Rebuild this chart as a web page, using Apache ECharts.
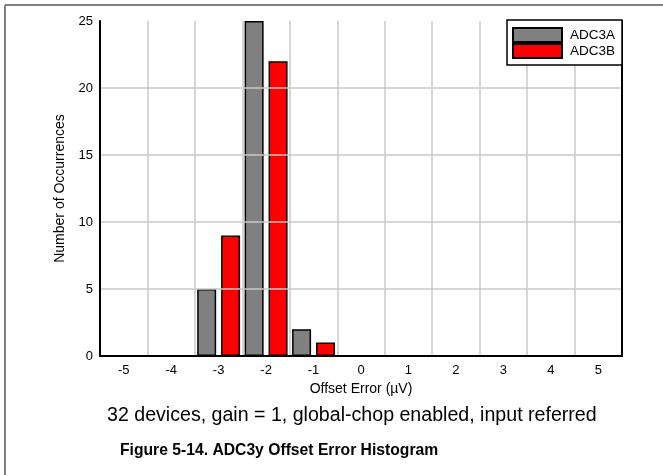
<!DOCTYPE html>
<html>
<head>
<meta charset="utf-8">
<script src="https://cdn.jsdelivr.net/npm/echarts@6/dist/echarts.min.js"></script>
<style>
  html, body { margin: 0; padding: 0; background: #fff; }
  #chart { width: 663px; height: 475px; }
</style>
</head>
<body>
<div id="chart"></div>
<script>
const categories = ['-5', '-4', '-3', '-2', '-1', '0', '1', '2', '3', '4', '5'];
const adc3a = [0, 0, 5, 25, 2, 0, 0, 0, 0, 0, 0];
const adc3b = [0, 0, 9, 22, 1, 0, 0, 0, 0, 0, 0];
const yTicks = { min: 0, max: 25, interval: 5 };
const seriesNames = ['ADC3A', 'ADC3B'];
const seriesColors = ['#808080', '#ff0000'];
const xTitle = 'Offset Error (\u00B5V)';
const yTitle = 'Number of Occurrences';
const subtitle = '32 devices, gain = 1, global-chop enabled, input referred';
const figTitle = 'Figure 5-14. ADC3y Offset Error Histogram';

const FONT = 'Arial, "Liberation Sans", sans-serif';
const chart = echarts.init(document.getElementById('chart'), null, { renderer: 'canvas' });

chart.setOption({
  animation: false,
  backgroundColor: '#ffffff',
  textStyle: { fontFamily: FONT },
  grid: {
    left: 100, right: 41, top: 21, bottom: 119,
    show: false
  },
  legend: {
    data: seriesNames,
    orient: 'vertical',
    left: 507, top: 20,
    padding: [7, 7, 6, 5],
    itemWidth: 49, itemHeight: 14, itemGap: 0,
    borderColor: '#000', borderWidth: 1.5,
    backgroundColor: '#fff',
    icon: 'rect',
    z: 10,
    textStyle: { fontFamily: FONT, fontSize: 13.5, lineHeight: 14, color: '#000', padding: [0, 0, 0, 3] }
  },
  xAxis: [{
    type: 'category',
    data: categories,
    boundaryGap: true,
    axisLine: { show: true, lineStyle: { color: '#000', width: 2 } },
    axisTick: { show: false },
    axisLabel: { fontFamily: FONT, fontSize: 13, color: '#000', margin: 8 },
    splitLine: { show: true, showMinLine: false, showMaxLine: false, lineStyle: { color: '#c8c8c8', width: 1.5 } },
    name: xTitle,
    nameLocation: 'middle',
    nameGap: 25,
    nameTextStyle: { fontFamily: FONT, fontSize: 14, color: '#000' },
    z: 5
  }, {
    type: 'category',
    position: 'top',
    data: categories,
    axisLine: { show: true, lineStyle: { color: '#000', width: 2 } },
    axisTick: { show: false },
    axisLabel: { show: false },
    splitLine: { show: false },
    z: 5
  }],
  yAxis: [{
    type: 'value',
    min: yTicks.min, max: yTicks.max, interval: yTicks.interval,
    axisLine: { show: true, lineStyle: { color: '#000', width: 2 } },
    axisTick: { show: false },
    axisLabel: { fontFamily: FONT, fontSize: 13, color: '#000', margin: 7 },
    splitLine: { show: true, showMinLine: false, showMaxLine: false, lineStyle: { color: '#c8c8c8', width: 1.5 } },
    name: yTitle,
    nameLocation: 'middle',
    nameGap: 32,
    nameRotate: 90,
    nameTextStyle: { fontFamily: FONT, fontSize: 14, color: '#000' },
    z: 5
  }, {
    type: 'value',
    position: 'right',
    min: yTicks.min, max: yTicks.max, interval: yTicks.interval,
    axisLine: { show: true, lineStyle: { color: '#000', width: 2 } },
    axisTick: { show: false },
    axisLabel: { show: false },
    splitLine: { show: false },
    z: 5
  }],
  series: [
    {
      name: seriesNames[0], type: 'bar', data: adc3a,
      barWidth: 19, barGap: '26%',
      itemStyle: { color: seriesColors[0], borderColor: '#000', borderWidth: 1.5 },
      z: 3
    },
    {
      name: seriesNames[1], type: 'bar', data: adc3b,
      barWidth: 19, barGap: '26%',
      itemStyle: { color: seriesColors[1], borderColor: '#000', borderWidth: 1.5 },
      z: 3
    }
  ],
  graphic: [
    { type: 'line', shape: { x1: 5, y1: 5, x2: 663, y2: 5 }, style: { stroke: '#808080', lineWidth: 2 }, silent: true },
    { type: 'line', shape: { x1: 5, y1: 5, x2: 5, y2: 475 }, style: { stroke: '#808080', lineWidth: 2 }, silent: true },
    { type: 'text', left: 107, top: 406, style: { text: subtitle, font: '19.6px ' + FONT, fill: '#000' }, silent: true },
    { type: 'text', left: 120, top: 443, style: { text: figTitle, font: 'bold 15.7px ' + FONT, fill: '#000' }, silent: true }
  ]
});
</script>
</body>
</html>
